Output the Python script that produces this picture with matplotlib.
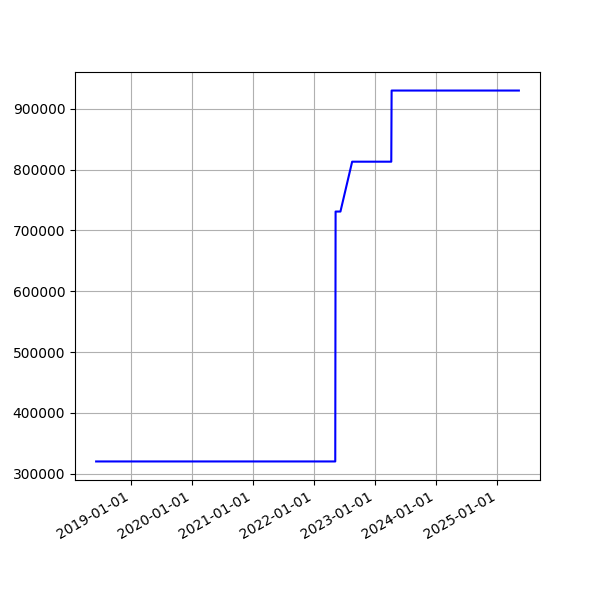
import matplotlib
matplotlib.use("Agg")
import matplotlib.pyplot as plt
import matplotlib.dates as mdates
import pandas as pd

dates = ["2018-06-08", "2022-05-08", "2022-05-10", "2022-06-08",
         "2022-08-17", "2023-04-08", "2023-04-10", "2025-05-10"]
values = [320000, 320000, 731000, 731000, 813000, 813000, 930000, 930000]

x = pd.to_datetime(dates)
fig, ax = plt.subplots(figsize=(6, 6), dpi=100)
ax.plot(x, values, color="blue")
ax.xaxis.set_major_locator(mdates.YearLocator())
ax.xaxis.set_major_formatter(mdates.DateFormatter("%Y-%m-%d"))
ax.grid(True)
fig.autofmt_xdate()
fig.savefig("out.png")
